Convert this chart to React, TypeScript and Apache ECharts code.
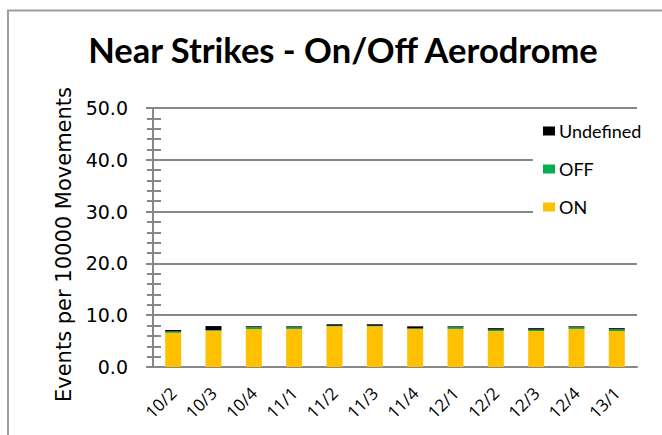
import React, { useEffect, useRef } from "react";
import * as echarts from "echarts";

const categories = ["10/2", "10/3", "10/4", "11/1", "11/2", "11/3", "11/4", "12/1", "12/2", "12/3", "12/4", "13/1"];
const onValues = [6.6, 7.0, 7.35, 7.35, 7.85, 7.85, 7.35, 7.35, 6.95, 6.95, 7.35, 6.95];
const offValues = [0.25, 0.1, 0.3, 0.3, 0.1, 0.1, 0.1, 0.3, 0.25, 0.25, 0.3, 0.3];
const undefinedValues = [0.3, 0.8, 0.2, 0.2, 0.3, 0.3, 0.4, 0.2, 0.3, 0.3, 0.2, 0.25];

const GREY = "#878787";

export default function App() {
  const ref = useRef<HTMLDivElement>(null);
  useEffect(() => {
    if (!ref.current) return;
    const chart = echarts.init(ref.current, undefined, { renderer: "svg" });
    const yCommon = {
      type: "value" as const,
      min: 0,
      max: 50,
      interval: 10,
    };
    chart.setOption({
      animation: false,
      backgroundColor: "#ffffff",
      title: {
        text: "Near Strikes - On/Off Aerodrome",
        left: 338,
        textAlign: "center",
        top: 27,
        textStyle: {
          fontFamily: "Lato",
          fontWeight: "bold",
          fontSize: 34.5,
          color: "#000",
        },
      },
      graphic: [
        {
          type: "rect",
          shape: { x: 8, y: 10.5, width: 700, height: 500 },
          style: { fill: "none", stroke: "#9e9e9e", lineWidth: 2 },
          silent: true,
        },
      ],
      legend: {
        orient: "vertical",
        left: 533,
        top: 117,
        backgroundColor: "#ffffff",
        padding: [4, 40, 6, 10],
        itemWidth: 12,
        itemHeight: 9,
        itemGap: 18,
        icon: "rect",
        data: ["Undefined", "OFF", "ON"],
        textStyle: {
          fontFamily: "Lato",
          fontSize: 18,
          color: "#000",
          padding: [0, 0, 0, -1],
          lineHeight: 20,
        },
      },
      grid: { left: 153, right: 25, top: 108, bottom: 68 },
      xAxis: {
        type: "category",
        data: categories,
        axisLine: { lineStyle: { color: GREY, width: 2 } },
        axisTick: { length: 5, lineStyle: { color: GREY, width: 2 } },
        axisLabel: {
          rotate: 45,
          margin: 23,
          fontFamily: "Open Sans",
          fontSize: 17,
          color: "#000",
        },
      },
      yAxis: [
        {
          ...yCommon,
          name: "Events per 10000 Movements",
          nameLocation: "middle",
          nameGap: 77,
          nameTextStyle: {
            fontFamily: "DejaVu Sans",
            fontSize: 21,
            color: "#000",
            padding: [0, 14, 0, 0],
          },
          axisLine: { show: true, lineStyle: { color: GREY, width: 2 } },
          axisTick: { show: true, length: 7, lineStyle: { color: GREY, width: 2 } },
          minorTick: { show: true, splitNumber: 5, length: 6, lineStyle: { color: GREY, width: 2 } },
          splitLine: { show: true, lineStyle: { color: GREY, width: 2 } },
          axisLabel: {
            margin: 25,
            fontFamily: "DejaVu Sans",
            fontSize: 19,
            color: "#000",
            formatter: (v: number) => v.toFixed(1),
          },
        },
        {
          ...yCommon,
          position: "left",
          axisLine: { show: false },
          axisTick: { show: true, inside: true, length: 8, lineStyle: { color: GREY, width: 2 } },
          minorTick: { show: true, splitNumber: 5, length: 8, lineStyle: { color: GREY, width: 2 } },
          splitLine: { show: false },
          axisLabel: { show: false },
        },
      ],
      series: [
        {
          name: "ON",
          type: "bar",
          stack: "total",
          data: onValues,
          barWidth: 16,
          itemStyle: { color: "#FFC000" },
        },
        {
          name: "OFF",
          type: "bar",
          stack: "total",
          data: offValues,
          barWidth: 16,
          itemStyle: { color: "#00B050" },
        },
        {
          name: "Undefined",
          type: "bar",
          stack: "total",
          data: undefinedValues,
          barWidth: 16,
          itemStyle: { color: "#000000" },
        },
      ],
    });
    return () => chart.dispose();
  }, []);
  return (
    <div
      ref={ref}
      style={{ position: "fixed", left: 0, top: 0, width: 662, height: 435 }}
    />
  );
}
